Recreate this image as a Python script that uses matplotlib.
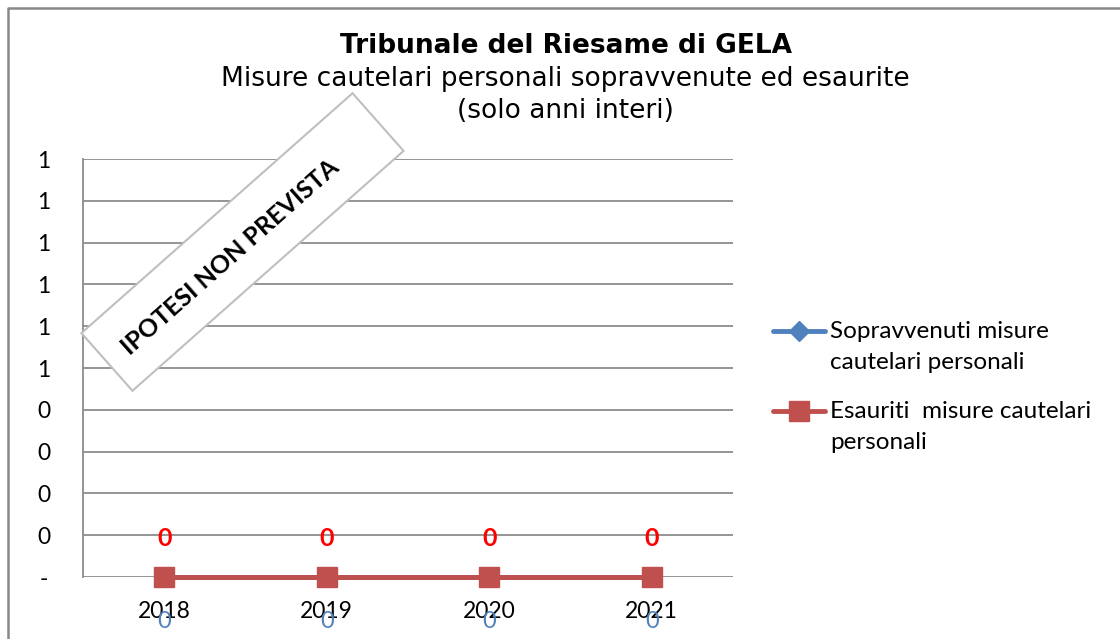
import matplotlib.pyplot as plt
from matplotlib.patches import Rectangle
from matplotlib.lines import Line2D
from matplotlib.ticker import FixedLocator, FixedFormatter

# dati del grafico
anni = ['2018', '2019', '2020', '2021']
sopravvenuti = [0, 0, 0, 0]
esauriti = [0, 0, 0, 0]
y_ticks = [0, 0.1, 0.2, 0.3, 0.4, 0.5, 0.6, 0.7, 0.8, 0.9, 1.0]
y_labels = ['-', '0', '0', '0', '0', '1', '1', '1', '1', '1', '1']

lab_sopr = 'Sopravvenuti misure\ncautelari personali'
lab_esau = 'Esauriti  misure cautelari\npersonali'

blu = '#4F81BD'
rosso = '#C0504D'
griglia = '#8C8C8C'
font_lab = 'Lato'

fig = plt.figure(figsize=(11.2, 6.39), dpi=100)
ax = fig.add_axes([0.0741, 0.097, 0.5804, 0.654])

x = list(range(len(anni)))
ax.plot(x, sopravvenuti, color=blu, lw=3.5, marker='D', ms=10,
        label=lab_sopr, zorder=3, clip_on=False)
ax.plot(x, esauriti, color=rosso, lw=3.5, marker='s', ms=14,
        label=lab_esau, zorder=4, clip_on=False)

# etichette dei valori
for xi, v in zip(x, esauriti):
    ax.annotate(str(v), (xi, v), xytext=(0, 28), textcoords='offset points',
                ha='center', va='center', color='red', fontsize=18,
                fontweight='bold', family=font_lab)
for xi, v in zip(x, sopravvenuti):
    ax.annotate(str(v), (xi, v), xytext=(0, -32), textcoords='offset points',
                ha='center', va='center', color=blu, fontsize=17,
                family=font_lab)

ax.set_xlim(-0.5, 3.5)
ax.set_ylim(0, 1)
ax.set_xticks(x)
ax.set_xticklabels(anni, family=font_lab, fontsize=16.5)
ax.yaxis.set_major_locator(FixedLocator(y_ticks))
ax.yaxis.set_major_formatter(FixedFormatter(y_labels))
for t in ax.get_yticklabels():
    t.set_family(font_lab)
    t.set_fontsize(16.5)
    t.set_horizontalalignment('center')
ax.tick_params(axis='y', length=0, pad=28)
ax.tick_params(axis='x', length=0, pad=17)

ax.grid(axis='y', color=griglia, lw=1.3)
ax.set_axisbelow(True)
for s in ['top', 'right', 'bottom']:
    ax.spines[s].set_visible(False)
ax.spines['left'].set_color(griglia)
ax.spines['left'].set_linewidth(1.3)

# titoli
fig.text(0.505, 0.928, 'Tribunale del Riesame di GELA', ha='center', va='center',
         fontsize=19, fontweight='bold')
fig.text(0.505, 0.877, 'Misure cautelari personali sopravvenute ed esaurite',
         ha='center', va='center', fontsize=19)
fig.text(0.505, 0.826, '(solo anni interi)', ha='center', va='center', fontsize=19)

# legenda (disegnata a mano: il simbolo sta sulla prima riga del testo)
voci = [(lab_sopr, blu, 'D', 10, 331), (lab_esau, rosso, 's', 14, 411)]
for testo, col, mk, ms, ypx in voci:
    yy = (639 - ypx) / 100
    fig.add_artist(Line2D([7.73, 8.25], [yy, yy], transform=fig.dpi_scale_trans,
                          color=col, lw=3.5, solid_capstyle='round'))
    fig.add_artist(Line2D([7.99], [yy], transform=fig.dpi_scale_trans,
                          color=col, marker=mk, ms=ms, lw=0))
    fig.text(8.30, yy + 0.10, testo, transform=fig.dpi_scale_trans, ha='left',
             va='top', fontsize=17.5, family=font_lab, linespacing=1.6)

# riquadro "IPOTESI NON PREVISTA"
cx, cy = 2.425, 6.39 - 2.42
w, h, ang = 3.62, 0.77, 41.5
box = Rectangle((cx - w / 2, cy - h / 2), w, h, angle=ang, rotation_point='center',
                transform=fig.dpi_scale_trans, fc='white', ec='#BFBFBF', lw=1.5,
                zorder=10)
fig.patches.append(box)
fig.text(2.30, 6.39 - 2.57, 'IPOTESI NON PREVISTA', transform=fig.dpi_scale_trans,
         rotation=ang, rotation_mode='anchor', ha='center', va='center',
         fontsize=18, fontweight='bold', family=font_lab, zorder=11)

# cornice esterna
fig.add_artist(Line2D([0.08, 0.08, 11.3], [-0.1, 6.31, 6.31],
                      transform=fig.dpi_scale_trans, color='#888888', lw=1.8))

fig.savefig('out.png', dpi=100)
